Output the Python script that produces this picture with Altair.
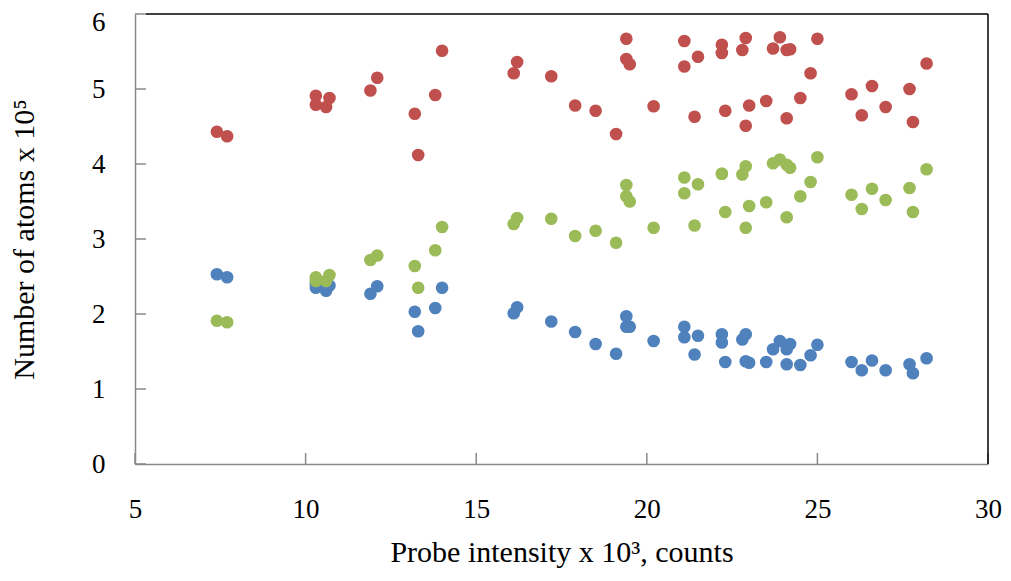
import altair as alt
import pandas as pd

# Probe intensity (x 10^3 counts)
x_vals = [7.4, 7.7, 10.3, 10.3, 10.6, 10.7, 11.9, 12.1, 13.2, 13.3, 13.8, 14.0,
          16.1, 16.2, 17.2, 17.9, 18.5, 19.1, 19.4, 19.4, 19.5, 20.2, 21.1, 21.1,
          21.5, 21.4, 22.2, 22.2, 22.3, 22.9, 22.8, 23.0, 22.9, 23.5, 23.9, 23.7,
          24.1, 24.2, 24.1, 24.5, 24.8, 25.0, 26.0, 26.3, 26.6, 27.0, 27.7, 27.8, 28.2]
red_vals = [4.43, 4.37, 4.91, 4.79, 4.76, 4.88, 4.98, 5.15, 4.67, 4.12, 4.92, 5.51,
            5.21, 5.36, 5.17, 4.78, 4.71, 4.40, 5.67, 5.40, 5.33, 4.77, 5.64, 5.30,
            5.43, 4.63, 5.59, 5.48, 4.71, 5.68, 5.52, 4.78, 4.51, 4.84, 5.69, 5.54,
            5.52, 5.53, 4.61, 4.88, 5.21, 5.67, 4.93, 4.65, 5.04, 4.76, 5.00, 4.56, 5.34]
green_vals = [1.91, 1.89, 2.49, 2.44, 2.44, 2.52, 2.72, 2.78, 2.64, 2.35, 2.85, 3.16,
              3.20, 3.28, 3.27, 3.04, 3.11, 2.95, 3.72, 3.57, 3.50, 3.15, 3.82, 3.61,
              3.73, 3.18, 3.87, 3.87, 3.36, 3.97, 3.86, 3.44, 3.15, 3.49, 4.06, 4.01,
              3.99, 3.95, 3.29, 3.57, 3.76, 4.09, 3.59, 3.40, 3.67, 3.52, 3.68, 3.36, 3.93]
blue_vals = [2.53, 2.49, 2.35, 2.40, 2.31, 2.38, 2.27, 2.37, 2.03, 1.77, 2.08, 2.35,
             2.01, 2.09, 1.90, 1.76, 1.60, 1.47, 1.97, 1.83, 1.83, 1.64, 1.83, 1.69,
             1.71, 1.46, 1.73, 1.62, 1.36, 1.73, 1.66, 1.35, 1.37, 1.36, 1.64, 1.53,
             1.53, 1.60, 1.33, 1.32, 1.45, 1.59, 1.36, 1.25, 1.38, 1.25, 1.33, 1.21, 1.41]

series_names = ["blue", "red", "green"]
series_colors = ["#4F81BD", "#C0504D", "#9BBB59"]

y_ticks = [0, 1, 2, 3, 4, 5, 6]
x_ticks = [5, 10, 15, 20, 25, 30]

W, H = 853, 450
FONT = "Liberation Serif"
GRAY = "#898989"

rows = []
for name, vals in zip(series_names, [blue_vals, red_vals, green_vals]):
    for xv, yv in zip(x_vals, vals):
        rows.append({"x": xv, "y": yv, "series": name})
df = pd.DataFrame(rows)

xscale = alt.Scale(domain=[5, 30], nice=False, zero=False)
yscale = alt.Scale(domain=[0, 6], nice=False)

points = alt.Chart(df).mark_circle(size=160, opacity=1).encode(
    x=alt.X("x:Q", scale=xscale,
            axis=alt.Axis(title="Probe intensity x 10³, counts", values=x_ticks,
                          format="d", labelFlush=False,
                          ticks=False, grid=False, labelPadding=32, titlePadding=15,
                          titleFontSize=30,
                          domainColor=GRAY, domainWidth=1.5)),
    y=alt.Y("y:Q", scale=yscale,
            axis=alt.Axis(title="Number of atoms x 10⁵", values=y_ticks,
                          format="d", labelFlush=False,
                          labelOffset=alt.ExprRef(expr="datum.value == 6 ? 8 : 0"),
                          ticks=False, grid=False, labelPadding=30, titlePadding=52,
                          titleFontSize=30,
                          domainColor=GRAY, domainWidth=1.5)),
    color=alt.Color("series:N", scale=alt.Scale(domain=series_names, range=series_colors),
                    legend=None),
)

ytick_layer = alt.Chart(pd.DataFrame({"v": y_ticks})).mark_rule(
    color=GRAY, strokeWidth=1.5).encode(
    y=alt.Y("v:Q", scale=yscale), x=alt.value(0), x2=alt.value(11))
xtick_layer = alt.Chart(pd.DataFrame({"v": x_ticks})).mark_rule(
    color=GRAY, strokeWidth=1.5).encode(
    x=alt.X("v:Q", scale=xscale), y=alt.value(H - 11), y2=alt.value(H))

top_border = alt.Chart(pd.DataFrame({"v": [0]})).mark_rule(
    color="black", strokeWidth=1.5).encode(
    x=alt.value(11), x2=alt.value(W), y=alt.value(0))
right_border = alt.Chart(pd.DataFrame({"v": [0]})).mark_rule(
    color="black", strokeWidth=1.5).encode(
    x=alt.value(W), y=alt.value(0), y2=alt.value(H))

chart = alt.layer(ytick_layer, xtick_layer, top_border, right_border, points).properties(
    width=W, height=H,
    autosize=alt.AutoSizeParams(type="none"),
    padding={"left": 127, "top": 6, "right": 15, "bottom": 109},
).configure_view(stroke=None).configure_axis(
    labelFont=FONT, titleFont=FONT, labelFontSize=27,
    labelColor="black", titleColor="black", titleFontWeight="normal",
)

chart.save("out.html", embed_options={"renderer": "svg", "actions": False})
